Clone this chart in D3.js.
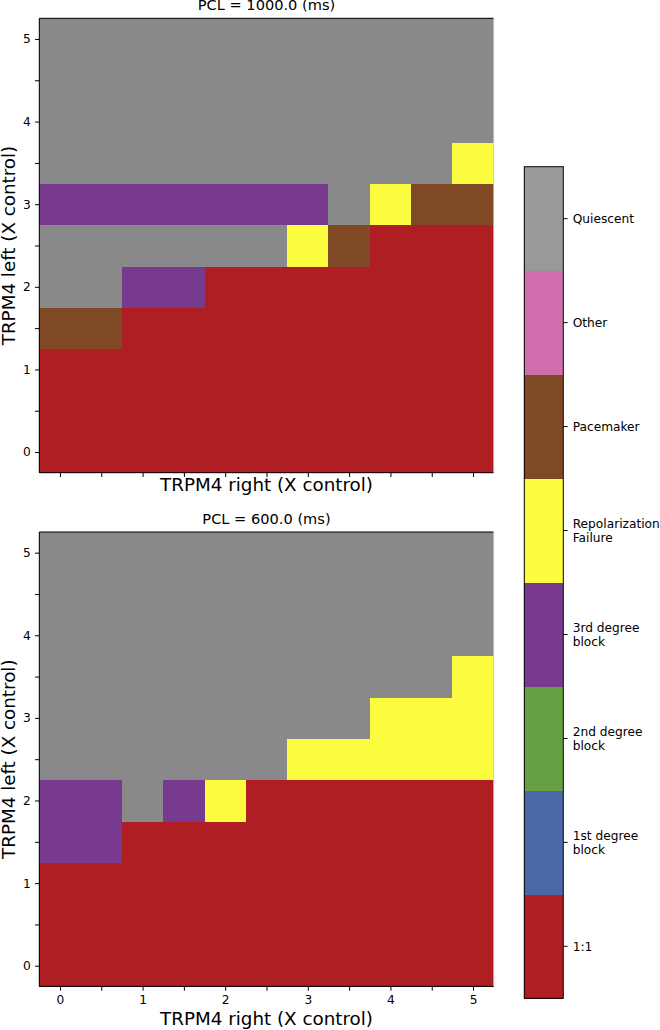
<!DOCTYPE html>
<html>
<head>
<meta charset="utf-8">
<script src="https://cdn.jsdelivr.net/npm/d3@7"></script>
<style>
  html, body { margin: 0; padding: 0; background: #fff; }
  svg { display: block; font-family: "DejaVu Sans", sans-serif; }
</style>
</head>
<body>
<svg id="chart" width="660" height="1030"></svg>
<script>
// ---- Data ----
const categories = ["1:1", "1st degree block", "2nd degree block", "3rd degree block",
                    "Repolarization Failure", "Pacemaker", "Other", "Quiescent"];
const categoryLabels = [["1:1"], ["1st degree", "block"], ["2nd degree", "block"], ["3rd degree", "block"],
                        ["Repolarization", "Failure"], ["Pacemaker"], ["Other"], ["Quiescent"]];
const categoryColors = ["#af1e23", "#4a68a6", "#65a043", "#773a8e", "#fbfb3f", "#7f4925", "#d16fae", "#999999"];
const quiescentMapColor = "#898989";

const xValues = [0, 0.5, 1, 1.5, 2, 2.5, 3, 3.5, 4, 4.5, 5];   // TRPM4 right
const yValues = [0, 0.5, 1, 1.5, 2, 2.5, 3, 3.5, 4, 4.5, 5];   // TRPM4 left
const tickValues = [0, 0.5, 1, 1.5, 2, 2.5, 3, 3.5, 4, 4.5, 5];

// rows indexed by yValues (bottom to top); entries = category index for each xValue
const pcl1000 = [
  [0,0,0,0,0,0,0,0,0,0,0],
  [0,0,0,0,0,0,0,0,0,0,0],
  [0,0,0,0,0,0,0,0,0,0,0],
  [5,5,0,0,0,0,0,0,0,0,0],
  [7,7,3,3,0,0,0,0,0,0,0],
  [7,7,7,7,7,7,4,5,0,0,0],
  [3,3,3,3,3,3,3,7,4,5,5],
  [7,7,7,7,7,7,7,7,7,7,4],
  [7,7,7,7,7,7,7,7,7,7,7],
  [7,7,7,7,7,7,7,7,7,7,7],
  [7,7,7,7,7,7,7,7,7,7,7]
];
const pcl600 = [
  [0,0,0,0,0,0,0,0,0,0,0],
  [0,0,0,0,0,0,0,0,0,0,0],
  [0,0,0,0,0,0,0,0,0,0,0],
  [3,3,0,0,0,0,0,0,0,0,0],
  [3,3,7,3,4,0,0,0,0,0,0],
  [7,7,7,7,7,7,4,4,4,4,4],
  [7,7,7,7,7,7,7,7,4,4,4],
  [7,7,7,7,7,7,7,7,7,7,4],
  [7,7,7,7,7,7,7,7,7,7,7],
  [7,7,7,7,7,7,7,7,7,7,7],
  [7,7,7,7,7,7,7,7,7,7,7]
];
const panels = [
  { title: "PCL = 1000.0 (ms)", grid: pcl1000, top: 18.3, showXTickLabels: false },
  { title: "PCL = 600.0 (ms)",  grid: pcl600,  top: 532,  showXTickLabels: true }
];

// ---- Drawing ----
const svg = d3.select("#chart");
const left = 39.3, right = 493.7, size = 454.4;
const step = 0.5;
const tickFont = 12.2, titleFont = 14.6, labelFont = 18.3;
const tickLen = 4.3, tickPad = 4.3;

const x = d3.scaleLinear().domain([-0.25, 5.25]).range([left, right]);

function mapColor(c) { return c === 7 ? quiescentMapColor : categoryColors[c]; }

panels.forEach(p => {
  const y = d3.scaleLinear().domain([-0.25, 5.25]).range([p.top + size, p.top]);
  const g = svg.append("g");

  const cells = [];
  p.grid.forEach((row, i) => row.forEach((c, j) => cells.push({ xv: xValues[j], yv: yValues[i], c })));

  g.append("g").attr("shape-rendering", "crispEdges")
    .selectAll("rect.cell").data(cells).enter().append("rect")
    .attr("class", "cell")
    .attr("x", d => x(d.xv - step / 2))
    .attr("y", d => y(d.yv + step / 2))
    .attr("width", d => x(d.xv + step / 2) - x(d.xv - step / 2) + 0.5)
    .attr("height", d => y(d.yv - step / 2) - y(d.yv + step / 2) + 0.5)
    .attr("fill", d => mapColor(d.c));

  // x axis
  const xAxis = d3.axisBottom(x).tickValues(tickValues).tickSize(tickLen).tickPadding(tickPad)
    .tickFormat(d => (p.showXTickLabels && Number.isInteger(d)) ? d3.format("d")(d) : "");
  const xg = g.append("g").attr("transform", `translate(0,${p.top + size})`).call(xAxis);
  xg.select(".domain").remove();
  xg.selectAll("line").attr("stroke", "#000").attr("stroke-width", 1);
  xg.selectAll("text").attr("font-size", tickFont).attr("fill", "#000").attr("font-family", "DejaVu Sans");

  // y axis
  const yAxis = d3.axisLeft(y).tickValues(tickValues).tickSize(tickLen).tickPadding(tickPad)
    .tickFormat(d => Number.isInteger(d) ? d3.format("d")(d) : "");
  const yg = g.append("g").attr("transform", `translate(${left},0)`).call(yAxis);
  yg.select(".domain").remove();
  yg.selectAll("line").attr("stroke", "#000").attr("stroke-width", 1);
  yg.selectAll("text").attr("font-size", tickFont).attr("fill", "#000").attr("font-family", "DejaVu Sans");

  // spines
  const sp = (x1, y1, x2, y2, col) => g.append("line").attr("x1", x1).attr("y1", y1).attr("x2", x2).attr("y2", y2)
    .attr("stroke", col).attr("stroke-width", 1);
  sp(left, p.top, right, p.top, "#000");
  sp(left, p.top + size, right, p.top + size, "#000");
  sp(left, p.top, left, p.top + size, "#000");
  sp(right, p.top, right, p.top + size, "#c8c8c8");

  // title
  g.append("text").attr("x", (left + right) / 2).attr("y", p.top - 8.4)
    .attr("text-anchor", "middle").attr("font-size", titleFont).attr("fill", "#000").text(p.title);

  // x label
  g.append("text").attr("x", (left + right) / 2).attr("y", p.top + size + (p.showXTickLabels ? 38.6 : 18.6))
    .attr("text-anchor", "middle").attr("font-size", labelFont).attr("fill", "#000").text("TRPM4 right (X control)");

  // y label
  g.append("text").attr("transform", `translate(15,${p.top + size / 2}) rotate(-90)`)
    .attr("text-anchor", "middle").attr("font-size", labelFont).attr("fill", "#000").text("TRPM4 left (X control)");
});

// ---- Colorbar ----
const cbLeft = 524.3, cbRight = 563.3, cbTop = 166.7, cbBottom = 998.3;
const cbY = d3.scaleBand().domain(d3.range(categories.length).reverse()).range([cbTop, cbBottom]).padding(0);
const cb = svg.append("g");
cb.append("g").attr("shape-rendering", "crispEdges")
  .selectAll("rect").data(categories).enter().append("rect")
  .attr("x", cbLeft).attr("width", cbRight - cbLeft)
  .attr("y", (d, i) => cbY(i)).attr("height", cbY.bandwidth() + 0.5)
  .attr("fill", (d, i) => categoryColors[i]);
cb.append("rect").attr("x", cbLeft).attr("y", cbTop).attr("width", cbRight - cbLeft).attr("height", cbBottom - cbTop)
  .attr("fill", "none").attr("stroke", "#000").attr("stroke-width", 1);

const lineGap = 14.2;
categories.forEach((c, i) => {
  const cy = cbY(i) + cbY.bandwidth() / 2;
  cb.append("line").attr("x1", cbRight).attr("x2", cbRight + tickLen).attr("y1", cy).attr("y2", cy)
    .attr("stroke", "#000").attr("stroke-width", 1);
  const lines = categoryLabels[i];
  const t = cb.append("text").attr("font-size", tickFont).attr("fill", "#000");
  lines.forEach((ln, k) => {
    t.append("tspan").attr("x", cbRight + tickLen + tickPad + 0.8)
      .attr("y", cy + 0.36 * tickFont + (k - (lines.length - 1) / 2) * lineGap).text(ln);
  });
});
</script>
</body>
</html>
